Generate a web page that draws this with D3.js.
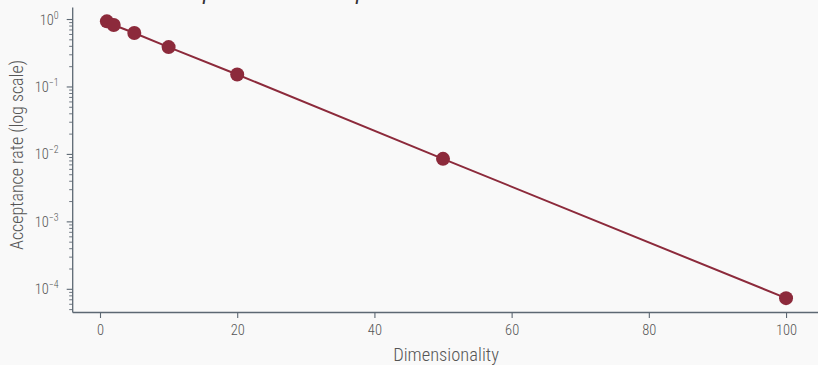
<!DOCTYPE html>
<html>
<head>
<meta charset="utf-8">
<script src="https://cdn.jsdelivr.net/npm/d3@7"></script>
<style>
  html, body { margin: 0; padding: 0; background: #f9f9f9; }
  svg { display: block; }
  .lbl { font-family: "Roboto Condensed", "Roboto", sans-serif; font-weight: 300; font-stretch: condensed; fill: #555; }
</style>
</head>
<body>
<svg id="chart" width="818" height="365"></svg>
<script>
// Acceptance rate of the sampler at each dimensionality
const dims = [1, 2, 5, 10, 20, 50, 100];
const rates = [0.94, 0.83, 0.63, 0.39, 0.153, 0.0086, 0.000074];
const xTicks = [0, 20, 40, 60, 80, 100];
const yMajorExps = [0, -1, -2, -3, -4];
const titleText = "Acceptance rate collapses with dimension";

const W = 818, H = 365;
const color = "#8c2a3b";
const axisColor = "#5d6873";

const svg = d3.select("#chart");
svg.append("rect").attr("width", W).attr("height", H).attr("fill", "#f9f9f9");

const x = d3.scaleLinear().domain([-3.95, 104.95]).range([72.9, 820]);
const y = d3.scaleLog().domain([4.61e-5, 1.507]).range([312, 7.5]);

// Title (sits mostly above the visible area)
const title = svg.append("text")
  .attr("x", 160).attr("y", -1)
  .style("font-family", "Roboto, sans-serif")
  .style("font-style", "italic")
  .style("font-size", "18px")
  .attr("fill", "#333")
  .text(titleText);
try {
  const a = title.node().getStartPositionOfChar(4).x;
  const b = title.node().getStartPositionOfChar(21).x;
  const fs = 18 * 153 / (b - a);
  title.style("font-size", fs + "px");
  const a2 = title.node().getStartPositionOfChar(4).x;
  title.attr("x", 160 + (203 - a2));
} catch (e) {}

// X axis
const xAxis = d3.axisBottom(x).tickValues(xTicks).tickSize(6).tickPadding(7).tickFormat(d3.format("d"));
const gx = svg.append("g").attr("transform", "translate(0,312)").call(xAxis);
gx.select(".domain").attr("d", "M72.7,0.5H818").attr("stroke", axisColor).attr("stroke-width", 1.3);
gx.selectAll(".tick line").attr("stroke", axisColor).attr("stroke-width", 1.1);
gx.selectAll(".tick text").attr("class", "lbl").style("font-size", "14.5px").attr("fill", "#555");

// Y axis (log) with minor ticks
const minor = [];
for (let e = -5; e <= 0; e++) {
  for (let m = 2; m <= 9; m++) {
    const v = m * Math.pow(10, e);
    if (v >= y.domain()[0] && v <= y.domain()[1]) minor.push(v);
  }
}
const gy = svg.append("g").attr("transform", "translate(72.7,0)");
gy.append("line").attr("x1", 0).attr("x2", 0).attr("y1", 7.5).attr("y2", 312.5)
  .attr("stroke", axisColor).attr("stroke-width", 1.3);
gy.selectAll("line.minor").data(minor).join("line").attr("class", "minor")
  .attr("x1", -3.5).attr("x2", 0).attr("y1", d => y(d)).attr("y2", d => y(d))
  .attr("stroke", axisColor).attr("stroke-width", 0.9);
gy.selectAll("line.major").data(yMajorExps).join("line").attr("class", "major")
  .attr("x1", -6).attr("x2", 0).attr("y1", d => y(Math.pow(10, d))).attr("y2", d => y(Math.pow(10, d)))
  .attr("stroke", axisColor).attr("stroke-width", 1.1);
const yl = gy.selectAll("text.ylab").data(yMajorExps).join("text").attr("class", "ylab lbl")
  .attr("x", -14).attr("y", d => y(Math.pow(10, d)) + 5)
  .attr("text-anchor", "end").style("font-size", "14.5px");
yl.append("tspan").text("10");
yl.append("tspan").attr("dy", -6).style("font-size", "10px").text(d => d === 0 ? "0" : "\u2212" + (-d));

// Axis titles
svg.append("text").attr("class", "lbl")
  .attr("transform", "translate(23," + 155 + ") rotate(-90)")
  .attr("text-anchor", "middle").style("font-size", "18px").attr("fill", "#555")
  .text("Acceptance rate (log scale)");
svg.append("text").attr("class", "lbl")
  .attr("x", (x(0) + x(100)) / 2 + 3).attr("y", 360.5)
  .attr("text-anchor", "middle").style("font-size", "18.5px").attr("fill", "#555")
  .text("Dimensionality");

// Line and points
const pts = dims.map((d, i) => ({ d, r: rates[i] }));
svg.append("path").datum(pts)
  .attr("fill", "none").attr("stroke", color).attr("stroke-width", 2)
  .attr("d", d3.line().x(p => x(p.d)).y(p => y(p.r)));
svg.selectAll("circle.pt").data(pts).join("circle").attr("class", "pt")
  .attr("cx", p => x(p.d)).attr("cy", p => y(p.r)).attr("r", 7)
  .attr("fill", color);
</script>
</body>
</html>
